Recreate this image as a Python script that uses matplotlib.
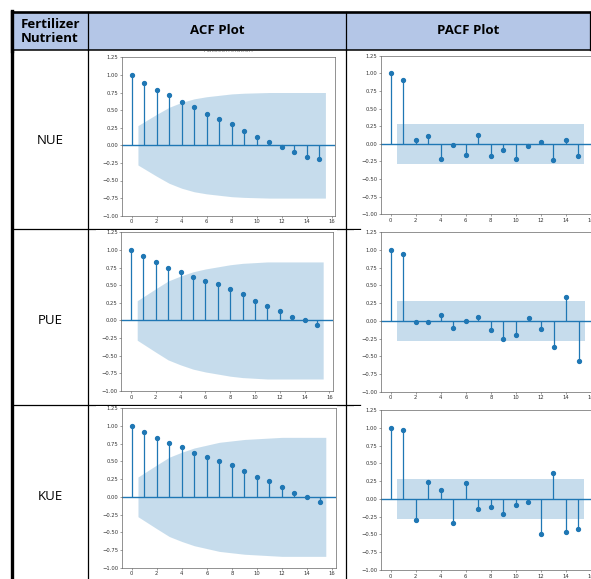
import numpy as np
import matplotlib.pyplot as plt
from matplotlib.transforms import Bbox, TransformedBbox
from matplotlib.patches import Rectangle

# correlation values per lag (0..15)
lags = np.arange(16)

nue_acf = [1.00, 0.88, 0.79, 0.72, 0.62, 0.54, 0.44, 0.38, 0.30, 0.21, 0.12, 0.04, -0.02, -0.10, -0.16, -0.20]
pue_acf = [1.00, 0.91, 0.83, 0.75, 0.69, 0.62, 0.56, 0.51, 0.45, 0.37, 0.28, 0.21, 0.14, 0.05, 0.00, -0.07]
kue_acf = [1.00, 0.91, 0.83, 0.76, 0.70, 0.62, 0.56, 0.51, 0.45, 0.37, 0.28, 0.22, 0.14, 0.05, 0.00, -0.07]

nue_pacf = [1.00, 0.90, 0.06, 0.11, -0.21, -0.02, -0.16, 0.13, -0.17, -0.09, -0.21, -0.03, 0.02, -0.23, 0.06, -0.17]
pue_pacf = [1.00, 0.94, -0.02, -0.02, 0.08, -0.10, 0.00, 0.05, -0.13, -0.25, -0.20, 0.04, -0.12, -0.37, 0.33, -0.56]
kue_pacf = [1.00, 0.97, -0.29, 0.24, 0.12, -0.34, 0.23, -0.14, -0.11, -0.21, -0.08, -0.04, -0.50, 0.37, -0.47, -0.42]

# confidence band half-widths for lags 1..15
nue_acf_band = [0.28, 0.44, 0.54, 0.61, 0.66, 0.69, 0.71, 0.73, 0.74, 0.745, 0.75, 0.75, 0.75, 0.75, 0.75]
pue_acf_band = [0.28, 0.45, 0.56, 0.63, 0.69, 0.73, 0.76, 0.79, 0.81, 0.82, 0.83, 0.83, 0.83, 0.83, 0.83]
kue_acf_band = [0.28, 0.45, 0.56, 0.63, 0.69, 0.73, 0.77, 0.79, 0.81, 0.82, 0.83, 0.84, 0.84, 0.84, 0.84]
pacf_band = [0.28] * 15

nutrients = ['NUE', 'PUE', 'KUE']
headers = ['Fertilizer\nNutrient', 'ACF Plot', 'PACF Plot']

W, H = 591, 579
fig = plt.figure(figsize=(W / 100, H / 100), dpi=100)


def place(x0, y0, x1, y1):
    return [x0 / W, 1 - y1 / H, (x1 - x0) / W, (y1 - y0) / H]


# table body lines and white picture areas
bg = fig.add_axes([0, 0, 1, 1], zorder=0)
bg.set_xlim(0, W)
bg.set_ylim(H, 0)
bg.axis('off')

row_tops = [51, 230, 406]
row_bots = [228, 404, 579]
row_lines = [229, 405]
for y in row_lines:
    bg.plot([12, 360], [y, y], color='black', lw=0.9, zorder=1)
bg.plot([88, 88], [50, H], color='black', lw=0.9, zorder=1)
bg.plot([346, 346], [50, H], color='black', lw=0.9, zorder=1)
bg.plot([12, 12], [12, H], color='black', lw=2.4, zorder=1)

acf_x = (96, 337)
pacf_x = (354, 591)
for t, b in zip(row_tops, row_bots):
    for x0, x1 in (acf_x, pacf_x):
        bg.add_patch(Rectangle((x0, t), x1 - x0, b - t, facecolor='white', edgecolor='none', zorder=2))

# row labels
label_y = [141, 320, 497]
for name, y in zip(nutrients, label_y):
    bg.text(50, y, name, ha='center', va='center', fontsize=9.5, family='Open Sans', zorder=3)


def corr_panel(rect, vals, band, title, clip):
    ax = fig.add_axes(place(*rect), zorder=1)
    vals = np.array(vals)
    band = np.array(band)
    ax.vlines(lags, 0, vals, color='C0', lw=0.9)
    ax.plot(lags, vals, 'o', color='C0', ms=2.8)
    ax.axhline(0, color='C0', lw=1.0)
    bx = lags[1:].astype(float)
    bx[0] -= 0.5
    bx[-1] += 0.5
    ax.fill_between(bx, -band, band, color='C0', alpha=0.25, lw=0)
    ax.set_xlim(-0.775, 16.275)
    ax.set_ylim(-1, 1.25)
    ax.set_xticks(np.arange(0, 17, 2))
    ax.set_yticks(np.arange(-1, 1.26, 0.25))
    ax.tick_params(labelsize=3.8, length=1.4, width=0.4, pad=1.2, colors='#555555', labelcolor='#333333')
    for s in ax.spines.values():
        s.set_linewidth(0.5)
        s.set_color('#666666')
    tt = ax.set_title(title, fontsize=4.6, pad=3.6, color='#888888')
    x0, y0, x1, y1 = clip
    tt.set_clip_box(TransformedBbox(Bbox([[x0, y0], [x1, y1]]), bg.transData))
    tt.set_clip_on(True)
    return ax


acf_rects = [(122.0, 57.3, 335.1, 215.7), (121.4, 232.3, 332.8, 391.0), (122.0, 408.3, 335.5, 567.7)]
pacf_rects = [(381.0, 55.7, 594.1, 214.3), (381.0, 232.3, 594.6, 391.7), (381.0, 410.0, 594.1, 570.0)]
acf_vals = [nue_acf, pue_acf, kue_acf]
pacf_vals = [nue_pacf, pue_pacf, kue_pacf]
acf_bands = [nue_acf_band, pue_acf_band, kue_acf_band]

for i in range(3):
    t, b = row_tops[i], row_bots[i]
    corr_panel(acf_rects[i], acf_vals[i], acf_bands[i], 'Autocorrelation', (acf_x[0], t, acf_x[1], b))
    corr_panel(pacf_rects[i], pacf_vals[i], pacf_band, 'Partial Autocorrelation', (pacf_x[0], t, pacf_x[1], b))

# header row drawn over the panels
hd = fig.add_axes([0, 0, 1, 1], zorder=5)
hd.set_xlim(0, W)
hd.set_ylim(H, 0)
hd.axis('off')
hd.patch.set_alpha(0)
hd.add_patch(Rectangle((12, 12), W - 12, 38, facecolor='#b4c6e7', edgecolor='none'))
hd.plot([12, W], [12, 12], color='black', lw=1.9)
hd.plot([12, W], [50, 50], color='black', lw=1.1)
hd.plot([88, 88], [12, 50], color='black', lw=0.9)
hd.plot([346, 346], [12, 50], color='black', lw=0.9)
hd.plot([590, 590], [12, 50], color='black', lw=0.9)
hd.plot([12, 12], [11, 51], color='black', lw=2.4)

hd.text(50, 31.5, headers[0], ha='center', va='center', fontsize=9.5, fontweight='bold',
        family='Open Sans', linespacing=1.15)
hd.text(217, 31, headers[1], ha='center', va='center', fontsize=9.5, fontweight='bold', family='Open Sans')
hd.text(468, 31, headers[2], ha='center', va='center', fontsize=9.5, fontweight='bold', family='Open Sans')

fig.savefig('out.png', dpi=100)
